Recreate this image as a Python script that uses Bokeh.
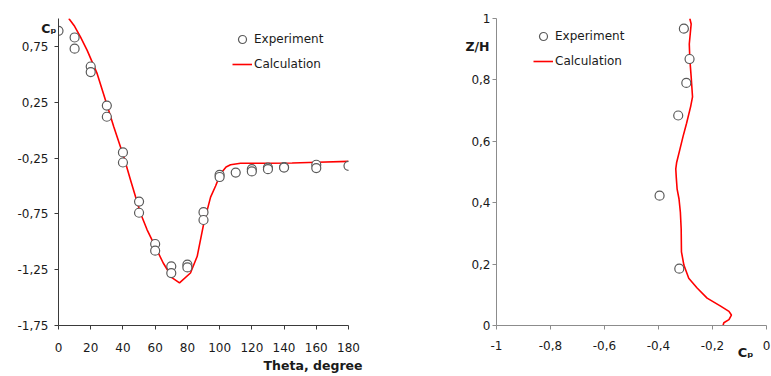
from bokeh.plotting import figure
from bokeh.models import Range1d, FixedTicker, Legend, LegendItem, Title, LinearAxis
from bokeh.layouts import row
from bokeh.embed import file_html
from bokeh.resources import INLINE

# ---- Left chart data: Cp vs Theta ----
theta_exp = [0, 10, 10, 20, 20, 30, 30, 40, 40, 50, 50, 60, 60, 70, 70, 80, 80,
             90, 90, 100, 100, 110, 120, 120, 130, 130, 140, 140, 160, 160, 180]
cp_exp = [0.89, 0.83, 0.73, 0.57, 0.52, 0.22, 0.12, -0.20, -0.29, -0.64, -0.74,
          -1.02, -1.08, -1.22, -1.28, -1.205, -1.23, -0.735, -0.805, -0.40, -0.42,
          -0.38, -0.35, -0.37, -0.335, -0.35, -0.33, -0.335, -0.31, -0.34, -0.32]

theta_calc = [6.4, 10, 13.7, 17.8, 24, 30.2, 34.3, 40.5, 44.7, 50.9, 55, 60.6, 65,
              70.6, 75.1, 81.9, 86.1, 90.2, 94.4, 97.5, 100.6, 104, 106.8, 113, 130,
              145, 160.6, 180]
cp_calc = [1.0, 0.93, 0.833, 0.714, 0.506, 0.22, 0.03, -0.238, -0.446, -0.744,
           -0.893, -1.06, -1.19, -1.324, -1.369, -1.28, -1.13, -0.833, -0.60, -0.50,
           -0.39, -0.33, -0.31, -0.297, -0.297, -0.295, -0.288, -0.28]

theta_ticks = [0, 20, 40, 60, 80, 100, 120, 140, 160, 180]
theta_labels = ["0", "20", "40", "60", "80", "100", "120", "140", "160", "180"]
cp_ticks = [-1.75, -1.25, -0.75, -0.25, 0.25, 0.75]
cp_labels = ["-1,75", "-1,25", "-0,75", "-0,25", "0,25", "0,75"]
left_title_y = "C\u209a"
left_title_x = "Theta, degree"

# ---- Right chart data: Z/H vs Cp ----
cp2_exp = [-0.306, -0.285, -0.297, -0.327, -0.396, -0.323]
zh_exp = [0.967, 0.868, 0.790, 0.684, 0.423, 0.185]

cp2_calc = [-0.161, -0.158, -0.139, -0.130, -0.139, -0.170, -0.220, -0.257, -0.288,
            -0.306, -0.315, -0.316, -0.319, -0.324, -0.331, -0.334, -0.336, -0.333,
            -0.321, -0.309, -0.296, -0.281, -0.274, -0.279, -0.284, -0.286, -0.279,
            -0.284]
zh_calc = [0.0, 0.009, 0.019, 0.034, 0.046, 0.063, 0.089, 0.122, 0.154, 0.197, 0.24,
           0.315, 0.369, 0.412, 0.444, 0.48, 0.51, 0.530, 0.573, 0.616, 0.659, 0.713,
           0.745, 0.81, 0.868, 0.917, 0.982, 1.0]

cp2_ticks = [-1, -0.8, -0.6, -0.4, -0.2, 0]
cp2_labels = ["-1", "-0,8", "-0,6", "-0,4", "-0,2", "0"]
zh_ticks = [0, 0.2, 0.4, 0.6, 0.8, 1]
zh_labels = ["0", "0,2", "0,4", "0,6", "0,8", "1"]
right_title_y = "Z/H"
right_title_x = "C\u209a"

FONT = "DejaVu Sans"
TXT = "#1a1a1a"
SERIES = ["Experiment", "Calculation"]


def style_axes(p, axis_color, x_standoff, y_standoff):
    p.outline_line_color = None
    p.grid.visible = False
    p.background_fill_color = "white"
    p.border_fill_color = "white"
    for ax in p.axis:
        ax.axis_line_color = axis_color
        ax.axis_line_width = 1
        ax.major_tick_line_color = axis_color
        ax.major_tick_in = 0
        ax.major_tick_out = 4
        ax.minor_tick_line_color = None
        ax.major_label_text_font = FONT
        ax.major_label_text_font_size = "12px"
        ax.major_label_text_color = TXT
    p.xaxis.major_label_standoff = x_standoff
    p.yaxis.major_label_standoff = y_standoff


def make_legend(r_exp, r_calc, loc):
    return Legend(
        items=[LegendItem(label=SERIES[0], renderers=[r_exp]),
               LegendItem(label=SERIES[1], renderers=[r_calc])],
        location=loc, padding=0, margin=0, spacing=5,
        glyph_width=20, glyph_height=20, label_height=20, label_standoff=2,
        label_text_font=FONT, label_text_font_size="12px", label_text_color=TXT,
        border_line_color=None, background_fill_alpha=0)


def name_axis(text, at, standoff):
    # an axis without line or ticks, carrying the bold name of the y quantity
    return LinearAxis(ticker=FixedTicker(ticks=[at]), major_label_overrides={at: text},
                      axis_line_color=None, major_tick_line_color=None,
                      major_tick_in=0, major_tick_out=0, minor_tick_line_color=None,
                      major_label_standoff=standoff, major_label_text_font=FONT,
                      major_label_text_font_style="bold",
                      major_label_text_font_size="12.5px", major_label_text_color=TXT)


def x_title(text, offset, standoff, size):
    return Title(text=text, align="right", offset=offset, standoff=standoff,
                 vertical_align="middle", text_font=FONT, text_font_style="bold",
                 text_font_size=size, text_color=TXT)


# ---------------- Left figure ----------------
p1 = figure(width=400, height=376, output_backend="svg", toolbar_location=None,
            x_range=Range1d(0, 180), y_range=Range1d(-1.75, 1.0),
            min_border_left=58, min_border_right=52, min_border_top=18,
            min_border_bottom=50)
style_axes(p1, "#3a3a3a", 13, 6)
p1.xaxis.ticker = FixedTicker(ticks=theta_ticks)
p1.xaxis.major_label_overrides = dict(zip(theta_ticks, theta_labels))
p1.yaxis.ticker = FixedTicker(ticks=cp_ticks)
p1.yaxis.major_label_overrides = dict(zip(cp_ticks, cp_labels))

r1_calc = p1.line(theta_calc, cp_calc, line_color="#ff0000", line_width=1.6)
r1_exp = p1.scatter(theta_exp, cp_exp, marker="circle", size=9, fill_color="white",
                    line_color="#5a5a5a", line_width=1.2)
p1.add_layout(make_legend(r1_exp, r1_calc, (174, 251)))

p1.add_layout(name_axis(left_title_y, 0.91, -42), "left")
p1.add_layout(x_title(left_title_x, -14, 5, "12.5px"), "below")

# ---------------- Right figure ----------------
p2 = figure(width=371, height=376, output_backend="svg", toolbar_location=None,
            x_range=Range1d(-1, 0), y_range=Range1d(0, 1),
            min_border_left=96, min_border_right=5, min_border_top=17,
            min_border_bottom=49)
style_axes(p2, "#8c8c8c", 11, 2)
p2.xaxis.ticker = FixedTicker(ticks=cp2_ticks)
p2.xaxis.major_label_overrides = dict(zip(cp2_ticks, cp2_labels))
p2.yaxis.ticker = FixedTicker(ticks=zh_ticks)
p2.yaxis.major_label_overrides = dict(zip(zh_ticks, zh_labels))

r2_calc = p2.line(cp2_calc, zh_calc, line_color="#ff0000", line_width=1.6)
r2_exp = p2.scatter(cp2_exp, zh_exp, marker="circle", size=9, fill_color="white",
                    line_color="#5a5a5a", line_width=1.2)
p2.add_layout(make_legend(r2_exp, r2_calc, (37, 254)))

p2.add_layout(name_axis(right_title_y, 0.91, -21), "left")
p2.add_layout(x_title(right_title_x, 13, -17, "13px"), "below")

layout = row(p1, p2)
open("out.html", "w").write(file_html(layout, INLINE))
